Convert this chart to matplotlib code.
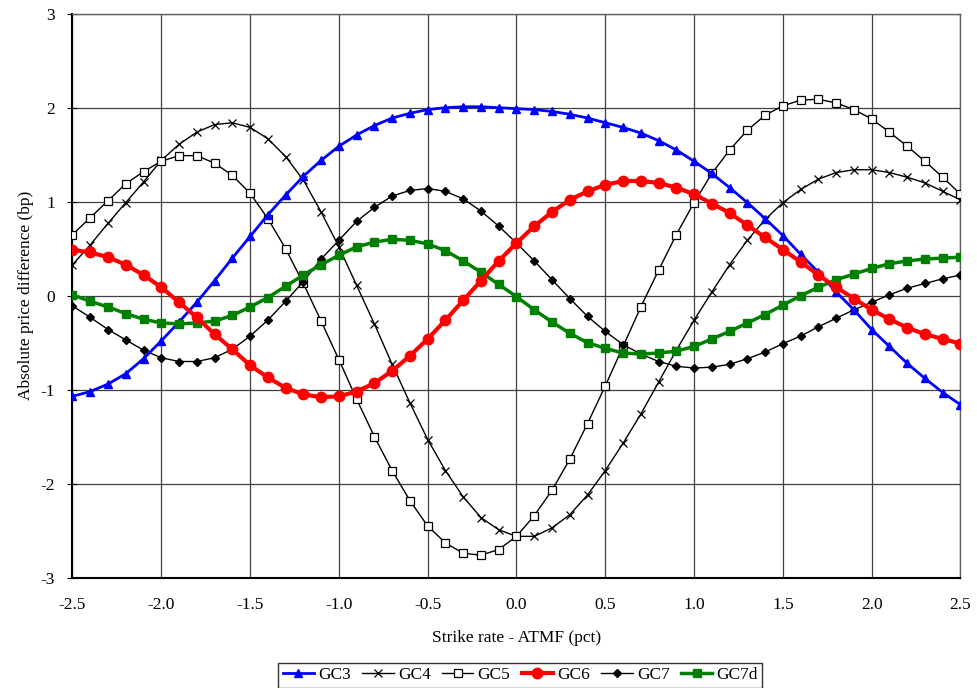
import matplotlib
matplotlib.use('Agg')
import matplotlib.pyplot as plt
import numpy as np

plt.rcParams['font.family'] = ['Liberation Serif', 'DejaVu Serif']
plt.rcParams['axes.unicode_minus'] = False

# strike rate - ATMF (pct), steps of 0.1
strike = np.round(np.arange(-25, 26) / 10.0, 1)

gc3 = [-1.07, -1.02, -0.94, -0.83, -0.67, -0.48, -0.28, -0.07, 0.16, 0.40,
       0.63, 0.86, 1.07, 1.27, 1.44, 1.59, 1.71, 1.81, 1.89, 1.94,
       1.98, 2.00, 2.01, 2.01, 2.00, 1.99, 1.98, 1.96, 1.93, 1.89,
       1.84, 1.79, 1.73, 1.65, 1.55, 1.43, 1.30, 1.15, 0.99, 0.82,
       0.64, 0.44, 0.25, 0.04, -0.15, -0.36, -0.54, -0.72, -0.88, -1.03,
       -1.16]

gc4 = [0.33, 0.54, 0.77, 0.99, 1.21, 1.44, 1.61, 1.74, 1.82, 1.84,
       1.79, 1.67, 1.48, 1.23, 0.89, 0.52, 0.11, -0.30, -0.73, -1.14,
       -1.53, -1.86, -2.14, -2.36, -2.49, -2.56, -2.56, -2.47, -2.33, -2.12,
       -1.86, -1.57, -1.26, -0.92, -0.58, -0.26, 0.04, 0.33, 0.59, 0.81,
       0.99, 1.13, 1.24, 1.31, 1.34, 1.34, 1.31, 1.26, 1.20, 1.11,
       1.02]

gc5 = [0.65, 0.83, 1.01, 1.19, 1.32, 1.43, 1.49, 1.49, 1.41, 1.28,
       1.09, 0.82, 0.50, 0.13, -0.27, -0.68, -1.10, -1.50, -1.86, -2.18,
       -2.45, -2.63, -2.74, -2.76, -2.70, -2.56, -2.34, -2.07, -1.74, -1.36,
       -0.96, -0.54, -0.12, 0.27, 0.65, 0.99, 1.30, 1.55, 1.76, 1.92,
       2.02, 2.08, 2.09, 2.05, 1.98, 1.88, 1.74, 1.59, 1.43, 1.26,
       1.08]

gc6 = [0.49, 0.46, 0.41, 0.33, 0.22, 0.09, -0.07, -0.23, -0.41, -0.57,
       -0.74, -0.87, -0.98, -1.05, -1.08, -1.07, -1.02, -0.93, -0.80, -0.64,
       -0.46, -0.26, -0.05, 0.16, 0.37, 0.56, 0.74, 0.89, 1.02, 1.11,
       1.18, 1.22, 1.22, 1.20, 1.15, 1.08, 0.98, 0.88, 0.75, 0.62,
       0.49, 0.36, 0.22, 0.09, -0.03, -0.15, -0.25, -0.34, -0.41, -0.46,
       -0.51]

gc7 = [-0.11, -0.23, -0.36, -0.47, -0.58, -0.66, -0.70, -0.70, -0.66, -0.57,
       -0.43, -0.26, -0.06, 0.15, 0.39, 0.59, 0.79, 0.94, 1.06, 1.12,
       1.14, 1.11, 1.03, 0.90, 0.74, 0.56, 0.37, 0.17, -0.03, -0.22,
       -0.38, -0.52, -0.62, -0.70, -0.75, -0.77, -0.76, -0.73, -0.67, -0.60,
       -0.51, -0.43, -0.33, -0.24, -0.15, -0.07, 0.01, 0.08, 0.13, 0.18,
       0.22]

gc7d = [0.01, -0.06, -0.12, -0.19, -0.25, -0.29, -0.30, -0.29, -0.27, -0.21,
        -0.12, -0.02, 0.10, 0.22, 0.33, 0.43, 0.52, 0.57, 0.60, 0.59,
        0.55, 0.48, 0.37, 0.25, 0.12, -0.01, -0.15, -0.28, -0.40, -0.50,
        -0.56, -0.61, -0.62, -0.61, -0.59, -0.54, -0.46, -0.38, -0.29, -0.20,
        -0.10, 0.00, 0.09, 0.17, 0.23, 0.29, 0.34, 0.37, 0.39, 0.40,
        0.41]

x_ticks = [-2.5, -2.0, -1.5, -1.0, -0.5, 0.0, 0.5, 1.0, 1.5, 2.0, 2.5]
y_ticks = [-3, -2, -1, 0, 1, 2, 3]

fig = plt.figure(figsize=(9.78, 6.88), dpi=100)
ax = fig.add_axes([0.0741, 0.1603, 0.908, 0.8198])

ax.plot(strike, gc3, color='blue', lw=2, marker='^', ms=6, label='GC3', zorder=5)
ax.plot(strike, gc4, color='black', lw=1, marker='x', ms=6, mew=0.9, label='GC4', zorder=4)
ax.plot(strike, gc5, color='black', lw=1, marker='s', ms=6, mfc='white', mew=0.9, label='GC5', zorder=4)
ax.plot(strike, gc6, color='red', lw=3, marker='o', ms=7.5, label='GC6', zorder=6)
ax.plot(strike, gc7, color='black', lw=1, marker='D', ms=4.5, label='GC7', zorder=4)
ax.plot(strike, gc7d, color='green', lw=2.5, marker='s', ms=6, label='GC7d', zorder=5)

ax.set_xlim(-2.5, 2.5)
ax.set_ylim(-3, 3)
ax.set_xticks(x_ticks)
ax.set_xticklabels(['%.1f' % v for v in x_ticks])
ax.set_yticks(y_ticks)
ax.grid(True, color='#404040', lw=0.9)
ax.set_axisbelow(True)
ax.tick_params(axis='x', length=0, labelsize=12.5, pad=14)
ax.tick_params(axis='y', direction='inout', length=7, labelsize=12.5, pad=9)

for side in ['top', 'right']:
    ax.spines[side].set_color('#606060')
    ax.spines[side].set_linewidth(1)
for side in ['left', 'bottom']:
    ax.spines[side].set_linewidth(1.5)

ax.set_xlabel('Strike rate - ATMF (pct)', fontsize=12.5, labelpad=12)
ax.set_ylabel('Absolute price difference (bp)', fontsize=12.5, labelpad=5)

leg = fig.legend(loc='center', bbox_to_anchor=(0.532, 0.0185), ncol=6,
                 fontsize=12.5, frameon=True, fancybox=False, handlelength=1.8,
                 handletextpad=0.25, columnspacing=0.65, borderpad=0.25,
                 edgecolor='black')
leg.get_frame().set_linewidth(1)

plt.savefig('out.png', dpi=100)
